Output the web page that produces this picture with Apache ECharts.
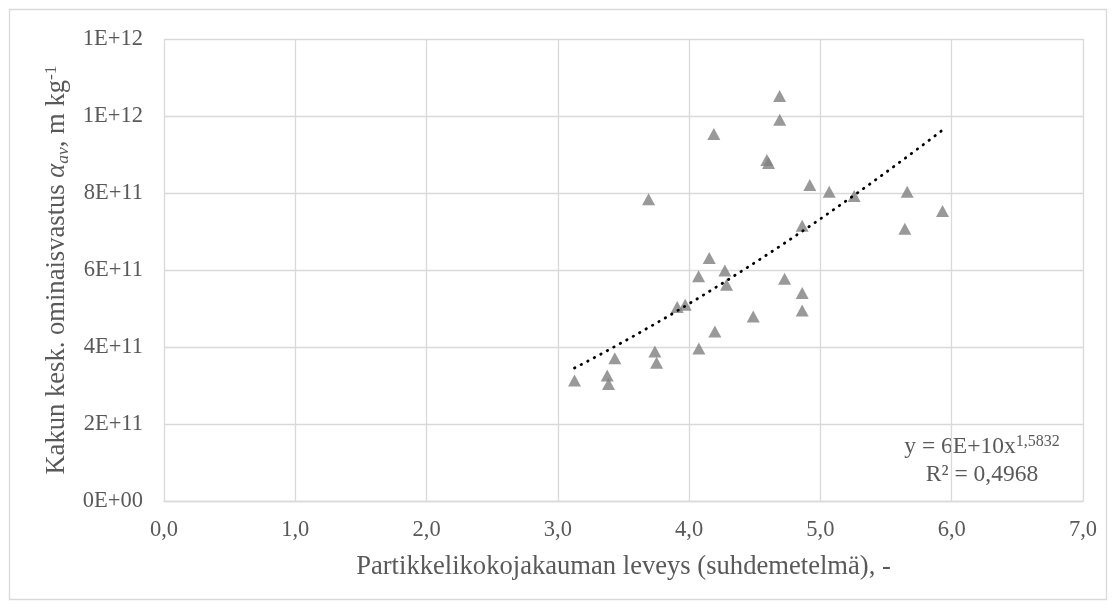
<!DOCTYPE html>
<html>
<head>
<meta charset="utf-8">
<script src="https://cdn.jsdelivr.net/npm/echarts@6/dist/echarts.min.js"></script>
<style>
  html, body { margin: 0; padding: 0; background: #ffffff; }
  #chart { width: 1116px; height: 609px; }
</style>
</head>
<body>
<div id="chart"></div>
<script>
// Particle size distribution width (ratio method), dimensionless
const widthRatio = [
  4.689, 4.690, 4.188, 4.592, 4.605, 4.919, 5.067, 5.661, 5.257, 3.691,
  5.930, 4.861, 5.643, 4.153, 4.272, 4.072, 4.727, 4.285, 4.861, 3.970,
  3.909, 4.861, 4.488, 4.196, 4.074, 3.739, 3.434, 3.752, 3.376, 3.127,
  3.386
];
// Average specific cake resistance, m/kg
const cakeResistance = [
  10.52e11, 9.90e11, 9.53e11, 8.86e11, 8.78e11, 8.21e11, 8.03e11, 8.03e11, 7.92e11, 7.84e11,
  7.53e11, 7.15e11, 7.07e11, 6.31e11, 5.99e11, 5.84e11, 5.77e11, 5.62e11, 5.40e11, 5.10e11,
  5.04e11, 4.95e11, 4.79e11, 4.40e11, 3.96e11, 3.88e11, 3.71e11, 3.59e11, 3.26e11, 3.13e11,
  3.04e11
];
const xTickLabels = ['0,0', '1,0', '2,0', '3,0', '4,0', '5,0', '6,0', '7,0'];
const yTickLabels = ['0E+00', '2E+11', '4E+11', '6E+11', '8E+11', '1E+12', '1E+12'];
const trendEquation = ['y = 6E+10x', '1,5832'];
const trendR2 = 'R² = 0,4968';

const FONT = "'Liberation Serif', 'Times New Roman', serif";
const TEXT = '#595959';
const GRID_LINE = '#d9d9d9';

// Power-law trend line y = a * x^b, fitted by least squares in log-log space
function powerFit(xs, ys) {
  const n = xs.length;
  let sx = 0, sy = 0, sxx = 0, sxy = 0;
  for (let i = 0; i < n; i++) {
    const lx = Math.log(xs[i]), ly = Math.log(ys[i]);
    sx += lx; sy += ly; sxx += lx * lx; sxy += lx * ly;
  }
  const b = (n * sxy - sx * sy) / (n * sxx - sx * sx);
  const a = Math.exp((sy - b * sx) / n);
  return { a, b };
}
const fit = powerFit(widthRatio, cakeResistance);
const xMin = Math.min(...widthRatio), xMax = Math.max(...widthRatio);
const trendPoints = [];
const steps = 80;
for (let i = 0; i <= steps; i++) {
  const x = xMin + (xMax - xMin) * i / steps;
  trendPoints.push([x, fit.a * Math.pow(x, fit.b)]);
}

const points = widthRatio.map((x, i) => [x, cakeResistance[i]]);

const chart = echarts.init(document.getElementById('chart'), null, { renderer: 'canvas' });
chart.setOption({
  animation: false,
  backgroundColor: '#ffffff',
  grid: { left: 164, right: 33, top: 39, bottom: 108 },
  xAxis: {
    type: 'value',
    min: 0, max: 7, interval: 1,
    name: 'Partikkelikokojakauman leveys (suhdemetelmä), -',
    nameLocation: 'middle',
    nameGap: 53,
    nameTextStyle: { fontFamily: FONT, fontSize: 26.6, color: TEXT },
    axisLine: { show: true, lineStyle: { color: GRID_LINE, width: 1.3 } },
    axisTick: { show: false },
    splitLine: { show: true, lineStyle: { color: GRID_LINE, width: 1.3 } },
    axisLabel: {
      fontFamily: FONT, fontSize: 22.5, color: TEXT, margin: 18,
      formatter: (v) => xTickLabels[Math.round(v)]
    }
  },
  yAxis: {
    type: 'value',
    min: 0, max: 1.2e12, interval: 2e11,
    name: '{t|Kakun kesk. ominaisvastus }{a|α}{sub|av}{t|, m kg}{sup|-1}',
    nameLocation: 'middle',
    nameGap: 88,
    nameRotate: 90,
    nameTextStyle: {
      fontFamily: FONT, fontSize: 26.6, color: TEXT,
      rich: {
        t: { fontFamily: FONT, fontSize: 26.6, color: TEXT, lineHeight: 30 },
        a: { fontFamily: FONT, fontSize: 26.6, color: TEXT, fontStyle: 'italic', lineHeight: 30 },
        sub: { fontFamily: FONT, fontSize: 17.5, color: TEXT, fontStyle: 'italic', verticalAlign: 'bottom', lineHeight: 12 },
        sup: { fontFamily: FONT, fontSize: 17.5, color: TEXT, verticalAlign: 'top', lineHeight: 12 }
      }
    },
    axisLine: { show: false },
    axisTick: { show: false },
    splitLine: { show: true, lineStyle: { color: GRID_LINE, width: 1.3 } },
    axisLabel: {
      fontFamily: FONT, fontSize: 22.5, color: TEXT, margin: 21,
      formatter: (v) => yTickLabels[Math.round(v / 2e11)]
    }
  },
  series: [
    {
      type: 'scatter',
      data: points,
      symbol: 'triangle',
      symbolSize: [13, 12],
      itemStyle: { color: '#7f7f7f' },
      z: 3
    },
    {
      type: 'line',
      data: trendPoints,
      showSymbol: false,
      smooth: false,
      lineStyle: { color: '#000000', width: 2.8, type: [0.5, 6.9], cap: 'round' },
      z: 4
    }
  ],
  graphic: [
    {
      type: 'rect',
      silent: true,
      z: -10,
      shape: { x: 9.5, y: 9.5, width: 1097, height: 590 },
      style: { fill: 'none', stroke: GRID_LINE, lineWidth: 1.3 }
    },
    {
      type: 'text',
      silent: true,
      x: 982, y: 447,
      style: {
        text: '{m|' + trendEquation[0] + '}{s|' + trendEquation[1] + '}',
        align: 'center', verticalAlign: 'middle',
        rich: {
          m: { fontFamily: FONT, fontSize: 23.5, fill: TEXT, lineHeight: 26 },
          s: { fontFamily: FONT, fontSize: 16, fill: TEXT, verticalAlign: 'top', lineHeight: 14 }
        }
      }
    },
    {
      type: 'text',
      silent: true,
      x: 982, y: 475,
      style: {
        text: trendR2,
        align: 'center', verticalAlign: 'middle',
        fontFamily: FONT, fontSize: 23.5, fill: TEXT
      }
    }
  ]
});
</script>
</body>
</html>
